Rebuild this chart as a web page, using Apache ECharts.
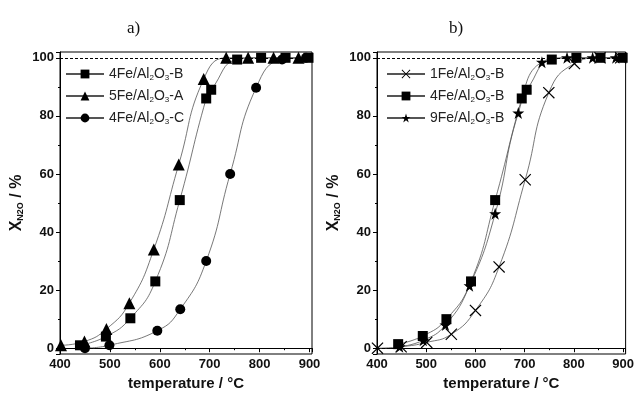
<!DOCTYPE html>
<html>
<head>
<meta charset="utf-8">
<script src="https://cdn.jsdelivr.net/npm/echarts@6/dist/echarts.min.js"></script>
<style>
  html, body { margin: 0; padding: 0; background: #fff; }
  #chart { width: 637px; height: 396px; }
</style>
</head>
<body>
<div id="chart"></div>
<script>
// panel a) temperatures (°C) and conversions (%)
var aSquareT = [440, 492, 541, 591, 640, 693, 703, 755, 803, 852, 898];
var aSquareV = [1, 4, 10.3, 23, 51, 86, 89, 99.4, 100, 100, 100];
var aTriT = [402, 449, 493, 539, 588, 638, 688, 733, 777, 828, 878];
var aTriV = [1, 2.3, 6.6, 15.5, 34, 63.3, 92.7, 100, 100, 100, 100];
var aCircT = [450, 499, 595, 641, 693, 741, 793, 845, 893];
var aCircV = [0, 1, 6, 13.4, 30, 60, 89.7, 99.4, 100];

// panel b)
var bCrossT = [401, 449, 501, 551, 600, 648, 701, 749, 801, 853, 895];
var bCrossV = [0, 0.5, 2, 4.8, 13, 28, 58, 88, 98, 100, 100];
var bSquareT = [443, 493, 541, 591, 640, 694, 704, 755, 805, 854, 899];
var bSquareV = [1.4, 4.2, 10, 23, 51, 86, 89, 99.4, 100, 100, 100];
var bStarT = [446, 494, 539, 588, 640, 687, 735, 786, 838, 885];
var bStarV = [0.5, 2.7, 8, 21.5, 46.3, 81, 98.5, 100, 100, 100];

var namesA = ['4Fe/Al2O3-B', '5Fe/Al2O3-A', '4Fe/Al2O3-C'];
var namesB = ['1Fe/Al2O3-B', '4Fe/Al2O3-B', '9Fe/Al2O3-B'];

var crossPath = 'path://M0,0.7L0.7,0L5,4.3L9.3,0L10,0.7L5.7,5L10,9.3L9.3,10L5,5.7L0.7,10L0,9.3L4.3,5Z';
var starPath = 'path://M5,0L6.2,3.6L10,3.6L6.9,5.9L8.1,9.5L5,7.3L1.9,9.5L3.1,5.9L0,3.6L3.8,3.6Z';

var font = '"Liberation Sans", Arial, sans-serif';

function pairs(t, v) {
  return t.map(function (x, i) { return [x, v[i]]; });
}

function mkSeries(name, t, v, symbol, size, idx, withRefLines) {
  var s = {
    name: name,
    type: 'line',
    xAxisIndex: idx,
    yAxisIndex: idx,
    data: pairs(t, v),
    smooth: 0.5,
    symbol: symbol,
    symbolSize: size,
    showAllSymbol: true,
    lineStyle: { color: '#555', width: 0.8 },
    itemStyle: { color: '#000', borderWidth: 0 }
  };
  // dashed reference lines at 0 % and 100 %
  if (withRefLines) {
    s.markLine = {
      silent: true,
      symbol: 'none',
      label: { show: false },
      lineStyle: { type: [3, 2], color: '#000', width: 1 },
      data: [{ yAxis: 0 }, { yAxis: 100 }]
    };
  }
  return s;
}

function xAxis(idx) {
  return {
    type: 'value', gridIndex: idx, min: 400, max: 905,
    name: 'temperature / °C', nameLocation: 'middle', nameGap: 21,
    nameTextStyle: { fontFamily: font, fontWeight: 'bold', fontSize: 15, color: '#111' },
    axisLine: { lineStyle: { color: '#000', width: 1 } },
    axisTick: { length: 4, lineStyle: { color: '#000' } },
    minorTick: { show: true, splitNumber: 2, length: 2, lineStyle: { color: '#000' } },
    splitLine: { show: false },
    axisLabel: {
      fontFamily: font, fontWeight: 'bold', fontSize: 13, color: '#111', margin: 4,
      formatter: function (v) { return v % 100 === 0 ? String(v) : ''; }
    }
  };
}

function yAxis(idx) {
  return {
    type: 'value', gridIndex: idx, min: -2, max: 102,
    name: '{x|X}{s|N2O}{x| / %}', nameLocation: 'middle', nameGap: 35, nameRotate: 90,
    nameTextStyle: {
      color: '#111',
      rich: {
        x: { fontFamily: font, fontWeight: 'bold', fontSize: 16, color: '#111' },
        s: { fontFamily: font, fontWeight: 'bold', fontSize: 9, color: '#111', verticalAlign: 'bottom', padding: [8, 0, 0, 0] }
      }
    },
    axisLine: { lineStyle: { color: '#000', width: 1 } },
    axisTick: { length: 4, lineStyle: { color: '#000' } },
    minorTick: { show: true, splitNumber: 2, length: 2, lineStyle: { color: '#000' } },
    splitLine: { show: false },
    axisLabel: {
      fontFamily: font, fontWeight: 'bold', fontSize: 13, color: '#111', margin: 6,
      formatter: function (v) { return v % 20 === 0 && v >= 0 && v <= 100 ? String(v) : ''; }
    }
  };
}

function legend(left, names) {
  return {
    left: left, top: 62, orient: 'vertical',
    itemWidth: 38, itemHeight: 11, itemGap: 7,
    data: names,
    formatter: function (n) { return n.replace('Al2O3', 'Al{s|2}O{s|3}'); },
    textStyle: {
      fontFamily: font, fontSize: 14, color: '#222',
      rich: {
        s: { fontFamily: font, fontSize: 8, color: '#222', verticalAlign: 'bottom', padding: [8, 0, 0, 0] }
      }
    }
  };
}

var chart = echarts.init(document.getElementById('chart'), null, { renderer: 'canvas' });

chart.setOption({
  animation: false,
  backgroundColor: '#fff',
  title: [
    { text: 'a)', left: 122, top: 15, textStyle: { fontFamily: '"Liberation Serif", serif', fontWeight: 'normal', fontSize: 17, color: '#111' } },
    { text: 'b)', left: 444, top: 15, textStyle: { fontFamily: '"Liberation Serif", serif', fontWeight: 'normal', fontSize: 17, color: '#111' } }
  ],
  legend: [legend(60, namesA), legend(381, namesB)],
  grid: [
    { left: 60, top: 52, width: 252, height: 302, show: true, borderColor: '#000', borderWidth: 1, backgroundColor: 'transparent' },
    { left: 377, top: 52, width: 253, height: 302, show: true, borderColor: '#000', borderWidth: 1, backgroundColor: 'transparent' }
  ],
  xAxis: [xAxis(0), xAxis(1)],
  yAxis: [yAxis(0), yAxis(1)],
  series: [
    mkSeries(namesA[0], aSquareT, aSquareV, 'rect', 10, 0, true),
    mkSeries(namesA[1], aTriT, aTriV, 'triangle', 12, 0, false),
    mkSeries(namesA[2], aCircT, aCircV, 'circle', 10, 0, false),
    mkSeries(namesB[0], bCrossT, bCrossV, crossPath, 12, 1, true),
    mkSeries(namesB[1], bSquareT, bSquareV, 'rect', 10, 1, false),
    mkSeries(namesB[2], bStarT, bStarV, starPath, 12, 1, false)
  ]
});
</script>
</body>
</html>
